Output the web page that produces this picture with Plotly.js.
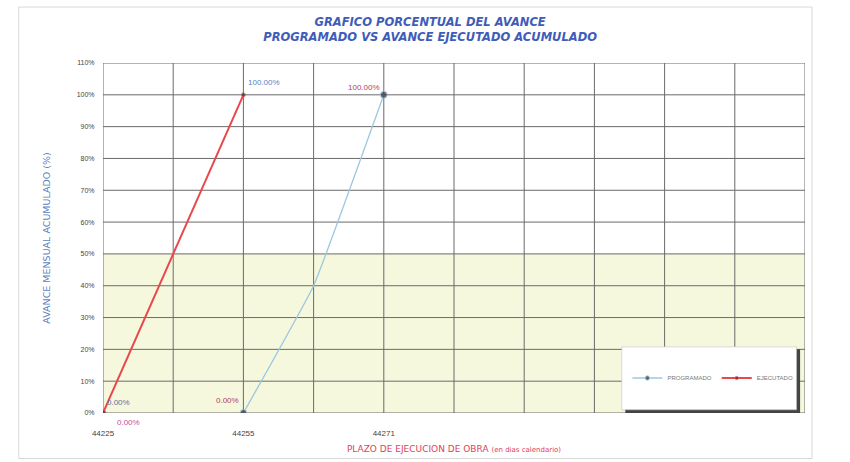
<!DOCTYPE html>
<html>
<head>
<meta charset="utf-8">
<script src="https://cdn.plot.ly/plotly-3.0.1.min.js"></script>
<style>
html,body{margin:0;padding:0;background:#fff;}
#chart{width:850px;height:462px;}
</style>
</head>
<body>
<div id="chart"></div>
<script>
// Category positions (0..10) and their tick labels
var tickPositions = [0, 2, 4];
var tickLabels = ['44225', '44255', '44271'];

// Programado series
var progX = [2, 3, 4];
var progY = [0, 40, 100];

// Ejecutado series
var ejecX = [0, 1, 2];
var ejecY = [0, 50, 100];

var yTicks = [0,10,20,30,40,50,60,70,80,90,100,110];

function pct(v){ return v.toFixed(2) + '%'; }

var traces = [
  {
    name: 'PROGRAMADO',
    x: progX, y: progY,
    type: 'scatter', mode: 'lines+markers',
    line: {color: '#9cc8de', width: 1.3, shape: 'spline', smoothing: 0.3},
    marker: {color: '#333344', size: [7, 0, 7]},
    hoverinfo: 'skip'
  },
  {
    name: 'EJECUTADO',
    x: ejecX, y: ejecY,
    type: 'scatter', mode: 'lines+markers',
    line: {color: '#e8484b', width: 2},
    marker: {color: ['#333344', 'rgba(0,0,0,0)', '#333344'], size: [6, 0, 4]},
    hoverinfo: 'skip'
  }
];

var annFont = {family: 'Liberation Sans, Arial, sans-serif', size: 8};
var annotations = [
  // Ejecutado labels (bluish)
  {x: ejecX[0], y: ejecY[0], text: pct(ejecY[0]), showarrow: false, xanchor: 'left', yanchor: 'bottom', xshift: 2, yshift: 4, font: Object.assign({}, annFont, {color: '#5a6fa0'})},
  {x: ejecX[2], y: ejecY[2], text: pct(ejecY[2]), showarrow: false, xanchor: 'left', yanchor: 'bottom', xshift: 3, yshift: 6, font: Object.assign({}, annFont, {color: '#5a7fc0'})},
  // Programado labels (magenta)
  {x: progX[0], y: progY[0], text: pct(progY[0]), showarrow: false, xanchor: 'right', yanchor: 'bottom', xshift: -2, yshift: 6, font: Object.assign({}, annFont, {color: '#b0406a'})},
  {x: progX[2], y: progY[2], text: pct(progY[2]), showarrow: false, xanchor: 'right', yanchor: 'bottom', xshift: -2, yshift: 1, font: Object.assign({}, annFont, {color: '#b0406a'})},
  {x: ejecX[0], y: ejecY[0], text: pct(ejecY[0]), showarrow: false, xanchor: 'left', yanchor: 'top', xshift: 12, yshift: -3, font: Object.assign({}, annFont, {color: '#c050a0'})}
];

var layout = {
  width: 850, height: 462,
  paper_bgcolor: '#ffffff',
  plot_bgcolor: 'rgba(0,0,0,0)',
  margin: {l: 103, r: 45, t: 63, b: 49},
  showlegend: true,
  title: {
    text: '<b><i>GRAFICO PORCENTUAL DEL AVANCE<br>PROGRAMADO VS AVANCE EJECUTADO ACUMULADO</i></b>',
    x: 0.506, xanchor: 'center', y: 0.943, yanchor: 'top',
    font: {family: 'DejaVu Sans, sans-serif', size: 11.5, color: '#3f5cb8'}
  },
  xaxis: {
    range: [0, 10],
    tickmode: 'array', tickvals: tickPositions, ticktext: tickLabels,
    showgrid: false, zeroline: false,
    showline: false,
    ticks: 'outside', ticklen: 12, tickcolor: 'rgba(0,0,0,0)',
    tickfont: {family: 'Liberation Sans, Arial, sans-serif', size: 8, color: '#444'},
    title: {text: 'PLAZO DE EJECUCION DE OBRA <span style="font-size:7px">(en dias calendario)</span>', standoff: 9,
      font: {family: 'DejaVu Sans, sans-serif', size: 9, color: '#e0405a'}},
    fixedrange: true
  },
  yaxis: {
    range: [0, 110],
    tickmode: 'array', tickvals: yTicks, ticktext: yTicks.map(function(v){return v + '%';}),
    showgrid: false, zeroline: false, showline: false,
    ticks: 'outside', ticklen: 6, tickcolor: 'rgba(0,0,0,0)',
    tickfont: {family: 'Liberation Sans, Arial, sans-serif', size: 7, color: '#444'},
    title: {text: 'AVANCE MENSUAL ACUMULADO (%)', standoff: 24,
      font: {family: 'DejaVu Sans, sans-serif', size: 9.5, color: '#5a7fc0'}},
    fixedrange: true
  },
  legend: {
    x: 0.747, y: 0.1, xanchor: 'left', yanchor: 'middle',
    orientation: 'h',
    bgcolor: 'rgba(0,0,0,0)',
    font: {family: 'Liberation Sans, Arial, sans-serif', size: 6, color: '#777'},
    itemwidth: 30
  },
  shapes: [],
  annotations: annotations
};

// Pale lower band of the plot area
layout.shapes.push({type: 'rect', xref: 'x', yref: 'y', x0: 0, x1: 10, y0: 0, y1: 50, fillcolor: '#f6f8de', line: {width: 0}, layer: 'below'});
// Grid lines
for (var i = 0; i <= 10; i++) {
  layout.shapes.push({type: 'line', xref: 'x', yref: 'y', x0: i, x1: i, y0: 0, y1: 110, line: {color: '#6a6a6a', width: 1}, layer: 'below'});
}
yTicks.forEach(function(v){
  layout.shapes.push({type: 'line', xref: 'x', yref: 'y', x0: 0, x1: 10, y0: v, y1: v, line: {color: '#6a6a6a', width: 1}, layer: 'below'});
});
// Legend box with shadow
layout.shapes.push({type: 'rect', xref: 'paper', yref: 'paper', x0: 0.744, x1: 0.993, y0: 0.0, y1: 0.182, fillcolor: '#444', line: {width: 0}, layer: 'above'});
layout.shapes.push({type: 'rect', xref: 'paper', yref: 'paper', x0: 0.739, x1: 0.988, y0: 0.009, y1: 0.189, fillcolor: '#ffffff', line: {color: '#bbb', width: 0.5}, layer: 'above'});
// Outer chart border
layout.shapes.push({type: 'rect', xref: 'paper', yref: 'paper', x0: -0.12, x1: 1.01, y0: -0.13, y1: 1.16, line: {color: '#d8d8d8', width: 1}, layer: 'below'});

Plotly.newPlot('chart', traces, layout, {displayModeBar: false, staticPlot: true});
</script>
</body>
</html>
